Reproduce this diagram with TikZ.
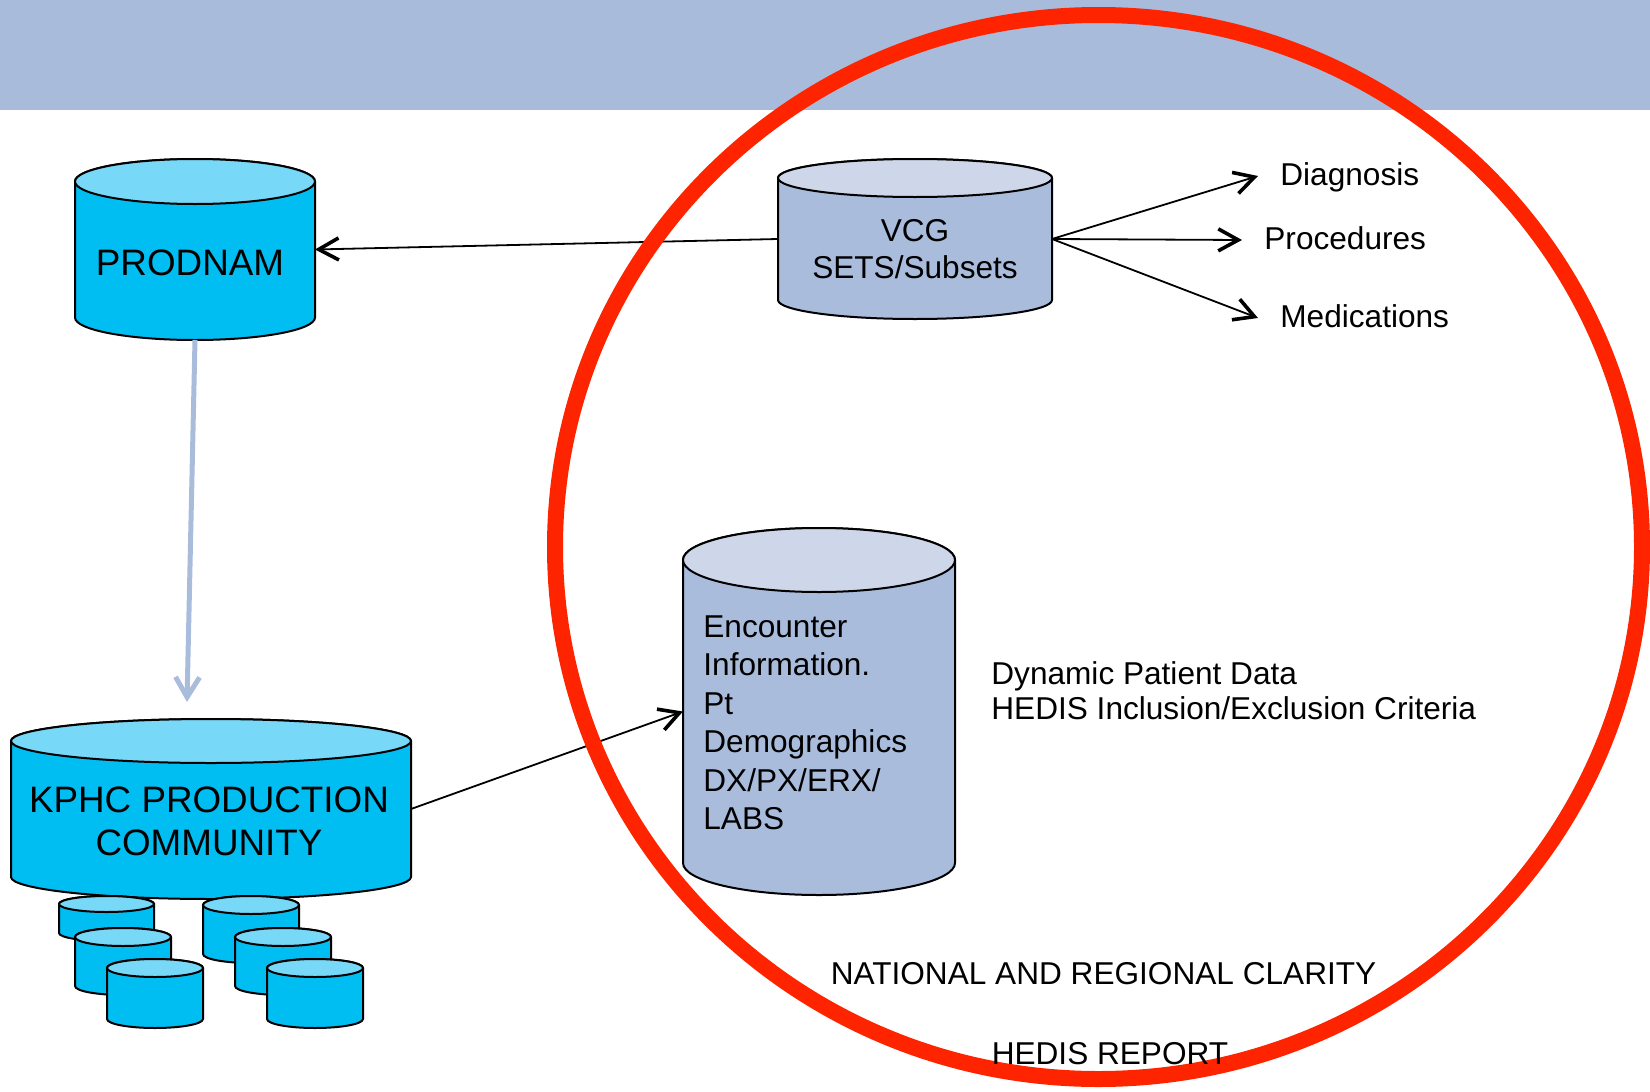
\documentclass[tikz,border=0pt]{standalone}
\usepackage{fontspec}
\setmainfont{Liberation Sans}
\usetikzlibrary{arrows.meta}

\definecolor{banner}{RGB}{169,187,219}
\definecolor{cyanbody}{RGB}{0,190,242}
\definecolor{cyantop}{RGB}{119,216,248}
\definecolor{slatebody}{RGB}{169,188,220}
\definecolor{slatetop}{RGB}{206,215,234}
\definecolor{ringred}{RGB}{255,36,0}

% cylinder drawn round a named node: name, half width, end radius, body, top
\newcommand\drum[5]{%
  \path[draw, line width=1pt, fill=#4]
    ([yshift=-#3]#1.north west) -- ([yshift=#3]#1.south west)
    arc[start angle=180, end angle=360, x radius=#2, y radius=#3]
    -- ([yshift=-#3]#1.north east)
    arc[start angle=0, end angle=180, x radius=#2, y radius=#3] -- cycle;
  \path[draw, line width=1pt, fill=#5]
    ([yshift=-#3]#1.north) ellipse[x radius=#2, y radius=#3];}

\begin{document}
\begin{tikzpicture}[x=0.5pt, y=-0.5pt,
  store/.style={rectangle, inner sep=0pt, outer sep=0pt},
  txt/.style={inner sep=0pt, font=\fontsize{15.8}{18.5}\selectfont},
  big/.style={inner sep=0pt, align=center, font=\fontsize{18.4}{21.5}\selectfont},
  outlab/.style={txt, anchor=west, inner xsep=11pt, text depth=0.21em},
  arr/.style={-{Straight Barb[length=10pt,width=11pt,line width=1.8pt]}, line width=0.9pt},
  feed/.style={-{Straight Barb[length=10pt,width=12pt]}, line width=2.5pt, draw=slatebody},
  ring/.style={draw=ringred, line width=8pt}]
\useasboundingbox (0,0) rectangle (1650,1092);

% Title band
\fill[banner] (0,0) rectangle (1650,110);

% Left side stores
\node[store, minimum width=120pt, minimum height=90.5pt] (prod) at (195,249.5) {};
\drum{prod}{60pt}{11.25pt}{cyanbody}{cyantop}
\node[store, minimum width=200pt, minimum height=90pt] (kphc) at (211,809) {};
\drum{kphc}{100pt}{11pt}{cyanbody}{cyantop}
\node[store, minimum width=47.5pt, minimum height=22.5pt] (sub1) at (106.5,918.5) {};
\drum{sub1}{23.75pt}{4pt}{cyanbody}{cyantop}
\node[store, minimum width=48pt, minimum height=33.5pt] (sub2) at (123,961.5) {};
\drum{sub2}{24pt}{4.5pt}{cyanbody}{cyantop}
\node[store, minimum width=48pt, minimum height=34.5pt] (sub3) at (155,993.5) {};
\drum{sub3}{24pt}{4.5pt}{cyanbody}{cyantop}
\node[store, minimum width=48pt, minimum height=33.5pt] (sub4) at (251,929.5) {};
\drum{sub4}{24pt}{4.5pt}{cyanbody}{cyantop}
\node[store, minimum width=48pt, minimum height=33.5pt] (sub5) at (283,961.5) {};
\drum{sub5}{24pt}{4.5pt}{cyanbody}{cyantop}
\node[store, minimum width=48pt, minimum height=34.5pt] (sub6) at (315,993.5) {};
\drum{sub6}{24pt}{4.5pt}{cyanbody}{cyantop}

% Right side stores
\node[store, minimum width=137pt, minimum height=80pt] (vcg) at (915,239) {};
\drum{vcg}{68.5pt}{9.5pt}{slatebody}{slatetop}
\node[store, minimum width=136pt, minimum height=183.5pt] (enc) at (819,711.5) {};
\drum{enc}{68pt}{16pt}{slatebody}{slatetop}

% Code groups
\node[outlab] (dx) at (1258,176) {Diagnosis};
\node[outlab] (px) at (1242,240) {Procedures};
\node[outlab] (mx) at (1258,318) {Medications};

\draw[arr] (vcg.west) -- (prod.east);
\draw[arr] (vcg.east) -- (dx.west);
\draw[arr] (vcg.east) -- (px.west);
\draw[arr] (vcg.east) -- (mx.west);
\draw[arr] (kphc.east) -- (enc.west);
\coordinate (drop) at (187,702);
\draw[feed] (prod.south) -- (drop);

% Clarity scope
\draw[ring] (1098.5,547) ellipse [x radius=271.75pt, y radius=266pt];

% Texts
\node[big] (prodtxt) at (190,263) {PRODNAM};
\node[big] (kphctxt) at (209,821.5) {KPHC PRODUCTION\\COMMUNITY};
\node[txt, align=center] (vcgtxt) at (915,249.5) {VCG\\SETS/Subsets};
\node[txt, align=left, anchor=north west, font=\fontsize{15.8}{19.25}\selectfont] (enctxt) at (703,615)
  {Encounter\\Information.\\Pt\\Demographics\\DX/PX/ERX/\\LABS};
\node[txt, align=left, anchor=north west, font=\fontsize{15.8}{17.75}\selectfont] (dyn) at (991,661)
  {Dynamic Patient Data\\HEDIS Inclusion/Exclusion Criteria};
\node[txt] (clarity) at (1103.5,974) {NATIONAL AND REGIONAL CLARITY};
\node[txt] (report) at (1110,1054) {HEDIS REPORT};
\end{tikzpicture}
\end{document}
